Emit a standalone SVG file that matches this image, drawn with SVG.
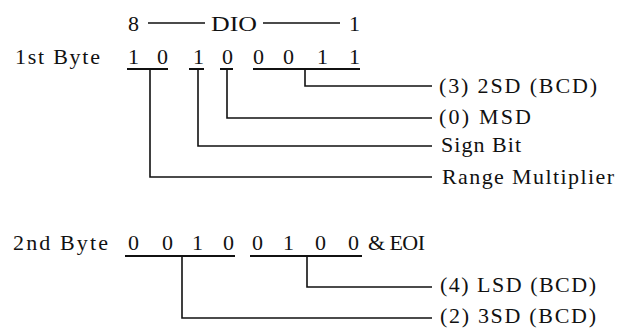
<svg xmlns="http://www.w3.org/2000/svg" width="633" height="331" viewBox="0 0 633 331">
<style>
text{font-family:"Liberation Serif","Times New Roman",serif;font-size:22px;fill:#111}
.ln{stroke:#111;stroke-width:1.6;fill:none}
.ul{stroke:#111;stroke-width:2.2;fill:none}
</style>
<rect width="633" height="331" fill="#fff"/>
<g id="header">
<text x="128" y="31">8</text>
<text x="211" y="31" textLength="46" lengthAdjust="spacingAndGlyphs">DIO</text>
<text x="349" y="31">1</text>
</g>
<g id="byte1">
<text x="15" y="64" textLength="85" lengthAdjust="spacing">1st Byte</text>
<text x="128" y="64">1</text><text x="157" y="64">0</text><text x="193" y="64">1</text><text x="222" y="64">0</text>
<text x="253" y="64">0</text><text x="283" y="64">0</text><text x="317" y="64">1</text><text x="349" y="64">1</text>
</g>
<g id="byte2">
<text x="13" y="250" textLength="95" lengthAdjust="spacing">2nd Byte</text>
<text x="128" y="250">0</text><text x="162" y="250">0</text><text x="192" y="250">1</text><text x="223" y="250">0</text>
<text x="252" y="250">0</text><text x="283" y="250">1</text><text x="315" y="250">0</text><text x="348" y="250">0</text>
<text x="368" y="250" textLength="57" lengthAdjust="spacing">&amp; EOI</text>
</g>
<g id="labels">
<text x="439" y="93" textLength="158" lengthAdjust="spacing">(3) 2SD (BCD)</text>
<text x="439" y="124" textLength="92" lengthAdjust="spacing">(0) MSD</text>
<text x="441" y="152" textLength="80" lengthAdjust="spacing">Sign Bit</text>
<text x="442" y="184" textLength="172" lengthAdjust="spacing">Range Multiplier</text>
<text x="440" y="292" textLength="156" lengthAdjust="spacing">(4) LSD (BCD)</text>
<text x="440" y="323" textLength="156" lengthAdjust="spacing">(2) 3SD (BCD)</text>
</g>
<g id="connectors">
<path class="ln" d="M148 23H205M263 23H340"/>
<path class="ul" d="M127 69H168M189 69H204M220 69H233M253 69H360"/>
<path class="ln" d="M305 69V86H432M227 69V118H432M198 69V146H432M150 69V177H432"/>
<path class="ul" d="M125 256H235M250 256H362"/>
<path class="ln" d="M307 256V287H432M182 256V318H432"/>
</g>
</svg>
